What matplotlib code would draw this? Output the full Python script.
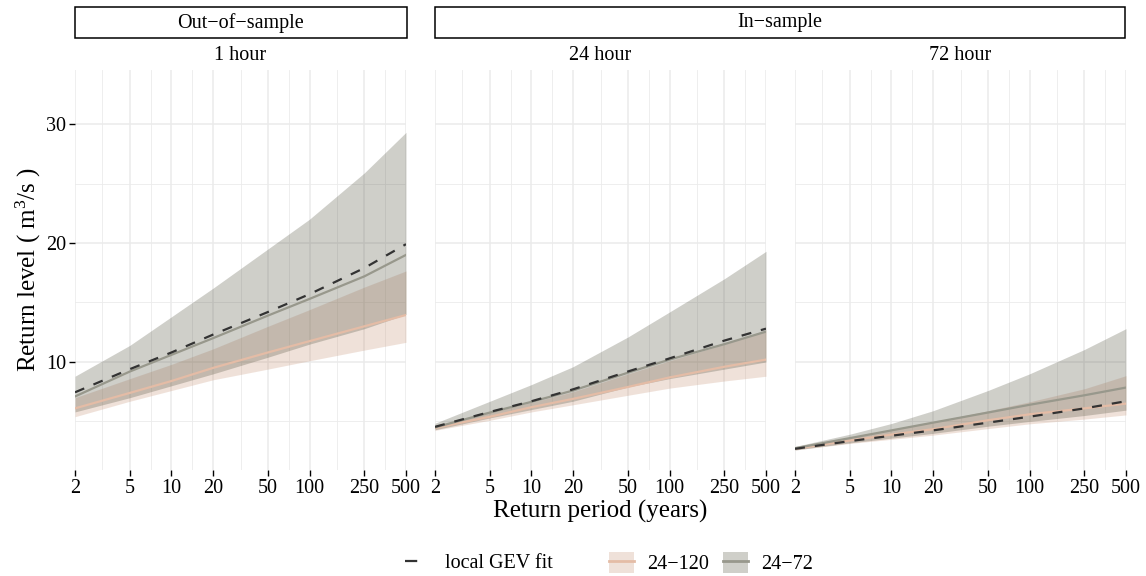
import matplotlib.pyplot as plt
from matplotlib.lines import Line2D
from matplotlib.patches import Patch, Rectangle
from matplotlib.ticker import NullFormatter
import numpy as np

plt.rcParams["font.family"] = ["Liberation Serif", "DejaVu Serif"]
plt.rcParams["mathtext.fontset"] = "custom"
plt.rcParams["mathtext.rm"] = "Liberation Serif"
plt.rcParams["mathtext.it"] = "Liberation Serif:italic"

# return periods (years)
rp = [2, 5, 10, 20, 50, 100, 250, 500]
rp_ticks = [2, 5, 10, 20, 50, 100, 250, 500]

panels = ["1 hour", "24 hour", "72 hour"]

# local GEV fit (dashed)
gev = [
    [7.45, 9.4, 10.8, 12.3, 14.2, 15.7, 17.9, 19.9],
    [4.55, 5.8, 6.7, 7.7, 9.2, 10.3, 11.8, 12.8],
    [2.7, 3.35, 3.8, 4.25, 4.9, 5.4, 6.1, 6.7],
]

# 24-72 model: median, lower, upper
m72_mid = [
    [7.1, 9.2, 10.6, 12.0, 13.9, 15.3, 17.2, 19.0],
    [4.5, 5.75, 6.65, 7.6, 9.1, 10.2, 11.5, 12.55],
    [2.75, 3.6, 4.25, 4.9, 5.75, 6.4, 7.2, 7.85],
]
m72_lo = [
    [5.8, 7.0, 8.0, 9.0, 10.4, 11.5, 12.8, 14.0],
    [4.3, 5.3, 6.0, 6.7, 7.9, 8.6, 9.4, 10.0],
    [2.6, 3.2, 3.6, 4.0, 4.6, 5.0, 5.5, 5.95],
]
m72_hi = [
    [8.8, 11.4, 13.8, 16.2, 19.5, 22.0, 25.9, 29.3],
    [4.85, 6.7, 8.1, 9.6, 12.1, 14.2, 17.0, 19.3],
    [2.9, 3.93, 4.83, 5.9, 7.6, 9.0, 11.05, 12.8],
]

# 24-120 model: median, lower, upper
m120_mid = [
    [6.1, 7.4, 8.4, 9.5, 10.8, 11.75, 13.0, 13.95],
    [4.45, 5.4, 6.2, 6.9, 7.9, 8.7, 9.6, 10.2],
    [2.7, 3.4, 3.9, 4.35, 5.1, 5.6, 6.1, 6.5],
]
m120_lo = [
    [5.4, 6.7, 7.6, 8.5, 9.4, 10.1, 11.0, 11.65],
    [4.25, 5.1, 5.8, 6.4, 7.2, 7.8, 8.4, 8.8],
    [2.6, 3.15, 3.5, 3.85, 4.4, 4.8, 5.2, 5.55],
]
m120_hi = [
    [7.0, 8.6, 9.8, 11.1, 13.0, 14.4, 16.3, 17.65],
    [4.6, 5.75, 6.6, 7.5, 9.0, 10.1, 11.5, 12.7],
    [2.8, 3.65, 4.3, 4.95, 5.9, 6.65, 7.75, 8.85],
]

tan_fill = "#c38b6b"
tan_alpha = 0.25
tan_line = "#e4bca6"
gray_fill = "#464632"
gray_alpha = 0.26
gray_line = "#98988c"
gev_col = "#333333"

W, H = 1146, 576
fig = plt.figure(figsize=(W / 100, H / 100), dpi=100)

lefts = [75, 435, 795]
pw = 331
top, bot = 70, 470

minor_x = [np.sqrt(rp_ticks[i] * rp_ticks[i + 1]) for i in range(len(rp_ticks) - 1)]

axes = []
for i in range(3):
    ax = fig.add_axes([lefts[i] / W, 1 - bot / H, pw / W, (bot - top) / H])
    axes.append(ax)
    ax.fill_between(rp, m120_lo[i], m120_hi[i], color=tan_fill, alpha=tan_alpha, lw=0)
    ax.fill_between(rp, m72_lo[i], m72_hi[i], color=gray_fill, alpha=gray_alpha, lw=0)
    ax.plot(rp, m120_mid[i], color=tan_line, lw=1.6)
    ax.plot(rp, m72_mid[i], color=gray_line, lw=1.6)
    ax.plot(rp, gev[i], color=gev_col, lw=1.6, linestyle=(0, (4.5, 4.5)))

    ax.set_xscale("log")
    ax.set_xlim(2, 500)
    ax.set_ylim(0.92, 34.54)
    ax.set_xticks(rp_ticks)
    ax.set_xticklabels([str(t) for t in rp_ticks])
    ax.set_xticks(minor_x, minor=True)
    ax.xaxis.set_minor_formatter(NullFormatter())
    ax.set_yticks([10, 20, 30])
    ax.set_yticks([5, 15, 25], minor=True)
    ax.yaxis.set_minor_formatter(NullFormatter())
    ax.grid(True, which="major", color="#ebebeb", lw=1.1)
    ax.grid(True, which="minor", color="#ebebeb", lw=0.6)
    ax.set_axisbelow(True)
    for s in ax.spines.values():
        s.set_visible(False)
    ax.tick_params(which="minor", length=0)
    ax.tick_params(which="major", length=4.5, width=1.0, color="black",
                   labelsize=14.5, pad=2)
    if i > 0:
        ax.tick_params(axis="y", which="major", length=0, labelleft=False)
    fig.text((lefts[i] + pw / 2) / W, 1 - 56 / H, panels[i], ha="center",
             va="center", fontsize=14.5)

axes[0].set_ylabel("Return level ( m$^3$/s )", fontsize=18, labelpad=2)

fig.text(600 / W, 1 - 511 / H, "Return period (years)", ha="center",
         va="center", fontsize=18)

# facet strips on top
strips = [("Out\u2212of\u2212sample", 75, 407), ("In\u2212sample", 435, 1125)]
for lab, x0, x1 in strips:
    fig.patches.append(Rectangle((x0 / W, 1 - 38 / H), (x1 - x0) / W, 31 / H,
                                 transform=fig.transFigure, fill=False,
                                 edgecolor="black", lw=1.1))
    fig.text((x0 + x1) / 2 / W, 1 - 23 / H, lab, ha="center", va="center",
             fontsize=14.5)

# legends
h_gev = Line2D([], [], color=gev_col, lw=1.6, linestyle=(0, (5.5, 10)))
leg1 = fig.legend([h_gev], ["local GEV fit"], loc="center left",
                  bbox_to_anchor=(405 / W, 1 - 563 / H), frameon=False,
                  fontsize=14.5, handlelength=1.25, handletextpad=0.75,
                  borderpad=0, borderaxespad=0)

h120 = (Patch(facecolor=tan_fill, alpha=tan_alpha, lw=0),
        Line2D([], [], color=tan_line, lw=2))
h72 = (Patch(facecolor=gray_fill, alpha=gray_alpha, lw=0),
       Line2D([], [], color=gray_line, lw=2))
leg2 = fig.legend([h120, h72], ["24\u2212120", "24\u221272"], loc="center left",
                  bbox_to_anchor=(609 / W, 1 - 563 / H), frameon=False,
                  fontsize=14.5, ncol=2, handlelength=1.25, handleheight=1.25,
                  handletextpad=0.65, columnspacing=0.7,
                  borderpad=0, borderaxespad=0)

plt.savefig("out.png", dpi=100)
